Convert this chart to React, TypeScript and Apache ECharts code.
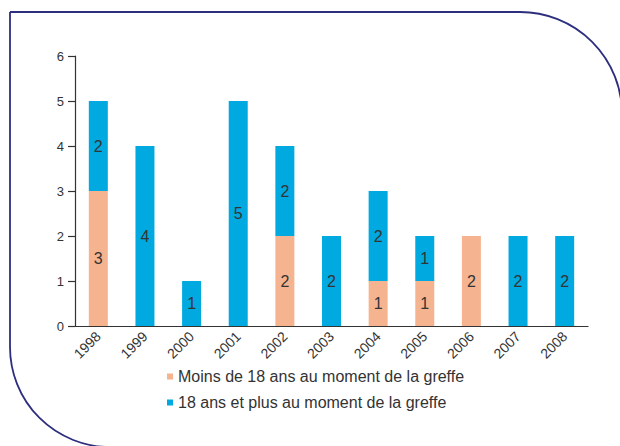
import React, { useEffect, useRef } from "react";
import * as echarts from "echarts";

const categories = ["1998", "1999", "2000", "2001", "2002", "2003", "2004", "2005", "2006", "2007", "2008"];
const moins18 = [3, 0, 0, 0, 2, 0, 1, 1, 2, 0, 0];
const plus18 = [2, 4, 1, 5, 2, 2, 2, 1, 0, 2, 2];
const seriesNames = ["Moins de 18 ans au moment de la greffe", "18 ans et plus au moment de la greffe"];
const yTicks = { min: 0, max: 6, interval: 1 };

const FONT = "Liberation Sans";
const TXT = "#333333";

export default function App() {
  const ref = useRef<HTMLDivElement>(null);
  useEffect(() => {
    document.body.style.margin = "0";
    document.body.style.overflow = "hidden";
    if (!ref.current) return;
    const chart = echarts.init(ref.current, null, { renderer: "svg" });
    const label = {
      show: true,
      position: "inside",
      color: TXT,
      fontSize: 16,
      fontFamily: FONT,
      formatter: (p: any) => (p.value ? String(p.value) : ""),
    };
    chart.setOption({
      animation: false,
      backgroundColor: "#ffffff",
      textStyle: { fontFamily: FONT },
      graphic: [
        {
          type: "rect",
          shape: { x: 10, y: 12, width: 612, height: 435, r: [0, 102, 0, 100] },
          style: { fill: "none", stroke: "#2d2f7e", lineWidth: 1.8 },
          silent: true,
          z: 0,
        },
      ],
      grid: { left: 75, right: 32, top: 56, bottom: 120, containLabel: false },
      legend: {
        orient: "vertical",
        left: 162,
        top: 363,
        itemWidth: 6,
        itemHeight: 6,
        itemGap: 9,
        icon: "rect",
        textStyle: { color: TXT, fontSize: 16, fontFamily: FONT, lineHeight: 17, padding: [0, 0, 0, 0] },
        data: seriesNames,
      },
      xAxis: {
        type: "category",
        data: categories,
        axisLine: { lineStyle: { color: TXT, width: 1.2 } },
        axisTick: { inside: true, length: 7, alignWithLabel: false, lineStyle: { color: TXT, width: 1.2 } },
        axisLabel: { rotate: 45, color: TXT, fontSize: 14, fontFamily: FONT, margin: 8, interval: 0 },
      },
      yAxis: {
        type: "value",
        min: yTicks.min,
        max: yTicks.max,
        interval: yTicks.interval,
        splitLine: { show: false },
        axisLine: { show: true, lineStyle: { color: TXT, width: 1.2 } },
        axisTick: { show: true, inside: false, length: 7, lineStyle: { color: TXT, width: 1.2 } },
        axisLabel: { color: TXT, fontSize: 13, fontFamily: FONT, margin: 11 },
      },
      series: [
        {
          name: seriesNames[0],
          type: "bar",
          stack: "total",
          data: moins18,
          barWidth: 19,
          itemStyle: { color: "#f5b48f" },
          label,
        },
        {
          name: seriesNames[1],
          type: "bar",
          stack: "total",
          data: plus18,
          barWidth: 19,
          itemStyle: { color: "#00a9e0" },
          label,
        },
      ],
    });
    return () => chart.dispose();
  }, []);
  return <div ref={ref} style={{ width: 620, height: 446 }} />;
}
